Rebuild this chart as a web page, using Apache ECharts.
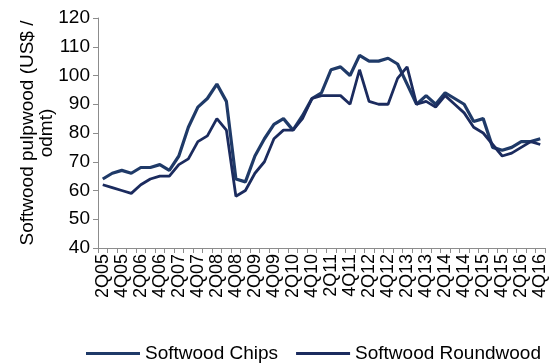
<!DOCTYPE html>
<html>
<head>
<meta charset="utf-8">
<style>
  html, body { margin: 0; padding: 0; background: #fff; }
  #chart { width: 550px; height: 363px; }
</style>
<script src="https://cdn.jsdelivr.net/npm/echarts@6/dist/echarts.min.js"></script>
</head>
<body>
<div id="chart"></div>
<script>
// Quarterly softwood pulpwood prices, US$ per oven-dry metric tonne
const quarters = [
  '2Q05','3Q05','4Q05',
  '1Q06','2Q06','3Q06','4Q06',
  '1Q07','2Q07','3Q07','4Q07',
  '1Q08','2Q08','3Q08','4Q08',
  '1Q09','2Q09','3Q09','4Q09',
  '1Q10','2Q10','3Q10','4Q10',
  '1Q11','2Q11','3Q11','4Q11',
  '1Q12','2Q12','3Q12','4Q12',
  '1Q13','2Q13','3Q13','4Q13',
  '1Q14','2Q14','3Q14','4Q14',
  '1Q15','2Q15','3Q15','4Q15',
  '1Q16','2Q16','3Q16','4Q16'
];

const chips = [
  64, 66, 67,
  66, 68, 68, 69,
  67, 72, 82, 89,
  92, 97, 91, 64,
  63, 72, 78, 83,
  85, 81, 86, 92,
  94, 102, 103, 100,
  107, 105, 105, 106,
  104, 97, 90, 93,
  90, 94, 92, 90,
  84, 85, 75, 74,
  75, 77, 77, 78
];

const roundwood = [
  62, 61, 60,
  59, 62, 64, 65,
  65, 69, 71, 77,
  79, 85, 81, 58,
  60, 66, 70, 78,
  81, 81, 85, 92,
  93, 93, 93, 90,
  102, 91, 90, 90,
  99, 103, 90, 91,
  89, 93, 90, 87,
  82, 80, 76, 72,
  73, 75, 77, 76
];

const yTicks = { min: 40, max: 120, step: 10 };

const font = 'Liberation Sans, Arial, sans-serif';
const axisGrey = '#8c8c8c';

const chart = echarts.init(document.getElementById('chart'), null, { renderer: 'canvas' });

chart.setOption({
  animation: false,
  textStyle: { fontFamily: font, color: '#000' },
  grid: { left: 98, right: 5, top: 18, bottom: 115, containLabel: false },
  legend: {
    top: 339,
    left: 81,
    itemWidth: 54,
    itemHeight: 3,
    itemGap: 18,
    icon: 'rect',
    textStyle: { fontFamily: font, fontSize: 19, color: '#000' },
    data: ['Softwood Chips', 'Softwood Roundwood']
  },
  xAxis: {
    type: 'category',
    data: quarters,
    boundaryGap: true,
    axisLine: { lineStyle: { color: axisGrey, width: 1 } },
    axisTick: { show: true, interval: 0, length: 5, lineStyle: { color: axisGrey } },
    axisLabel: {
      interval: 1,
      rotate: 90,
      fontFamily: font,
      fontSize: 18,
      color: '#000',
      margin: 6
    },
    splitLine: { show: false }
  },
  yAxis: {
    type: 'value',
    min: yTicks.min,
    max: yTicks.max,
    interval: yTicks.step,
    name: 'Softwood pulpwood (US$ /\nodmt)',
    nameLocation: 'middle',
    nameGap: 42,
    nameMoveOverlap: false,
    nameRotate: 90,
    nameTextStyle: { fontFamily: font, fontSize: 19, color: '#000', lineHeight: 19 },
    axisLine: { show: true, lineStyle: { color: axisGrey, width: 1 } },
    axisTick: { show: true, length: 5, lineStyle: { color: axisGrey } },
    axisLabel: { fontFamily: font, fontSize: 19, color: '#000', margin: 8 },
    splitLine: { show: false }
  },
  series: [
    {
      name: 'Softwood Chips',
      type: 'line',
      data: chips,
      symbol: 'none',
      lineStyle: { color: '#1f3a68', width: 3.2 },
      itemStyle: { color: '#1f3a68' }
    },
    {
      name: 'Softwood Roundwood',
      type: 'line',
      data: roundwood,
      symbol: 'none',
      lineStyle: { color: '#1b2b5e', width: 2.8 },
      itemStyle: { color: '#1b2b5e' }
    }
  ]
});
</script>
</body>
</html>
